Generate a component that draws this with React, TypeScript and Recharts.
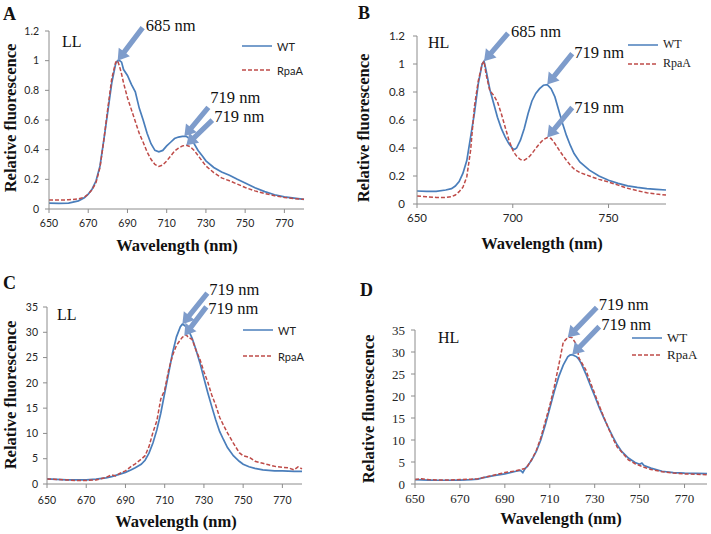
import React from "react";
import { LineChart, Line, XAxis, YAxis, ReferenceDot, Legend } from "recharts";

const W = 711;
const H = 534;

// A: low light, PSII/PSI ratio normalised spectra
const aNm = [650, 655, 660, 665, 668, 670, 672, 674, 676, 678, 680, 682, 684, 685, 686, 687, 688, 690, 692, 694, 696, 698, 700, 702, 704, 706, 708, 710, 712, 714, 716, 718, 720, 722, 724, 726, 728, 730, 734, 738, 742, 746, 750, 755, 760, 765, 770, 775, 780];
const aWT = [0.04, 0.038, 0.04, 0.055, 0.075, 0.1, 0.135, 0.19, 0.29, 0.47, 0.66, 0.85, 0.98, 1.0, 1.0, 0.99, 0.94, 0.9, 0.84, 0.79, 0.68, 0.6, 0.51, 0.44, 0.395, 0.385, 0.395, 0.425, 0.45, 0.475, 0.485, 0.49, 0.49, 0.47, 0.44, 0.395, 0.36, 0.325, 0.28, 0.25, 0.228, 0.2, 0.175, 0.143, 0.117, 0.096, 0.082, 0.073, 0.065];
const aRpaA = [0.06, 0.06, 0.062, 0.068, 0.08, 0.1, 0.13, 0.18, 0.28, 0.47, 0.68, 0.88, 0.99, 1.0, 0.96, 0.91, 0.85, 0.75, 0.67, 0.59, 0.51, 0.45, 0.385, 0.335, 0.3, 0.287, 0.297, 0.324, 0.357, 0.39, 0.41, 0.425, 0.43, 0.42, 0.395, 0.36, 0.325, 0.29, 0.245, 0.21, 0.19, 0.168, 0.145, 0.122, 0.104, 0.09, 0.078, 0.07, 0.065];

// B: high light
const bNm = [650, 655, 660, 665, 668, 670, 672, 674, 676, 678, 680, 682, 684, 685, 686, 688, 690, 692, 694, 696, 698, 700, 701, 702, 704, 706, 708, 710, 712, 714, 716, 718, 720, 722, 724, 726, 728, 730, 732, 735, 740, 745, 750, 755, 760, 765, 770, 775, 780];
const bWT = [0.093, 0.09, 0.09, 0.1, 0.11, 0.128, 0.16, 0.22, 0.31, 0.48, 0.65, 0.86, 1.0, 1.02, 0.96, 0.82, 0.72, 0.62, 0.54, 0.48, 0.43, 0.395, 0.39, 0.4, 0.456, 0.54, 0.646, 0.736, 0.79, 0.824, 0.848, 0.853, 0.824, 0.765, 0.67, 0.575, 0.49, 0.42, 0.36, 0.3, 0.242, 0.2, 0.17, 0.147, 0.13, 0.119, 0.11, 0.105, 0.1];
const bRpaA = [0.057, 0.052, 0.047, 0.047, 0.052, 0.064, 0.088, 0.12, 0.195, 0.385, 0.7, 0.88, 1.0, 1.02, 0.93, 0.81, 0.777, 0.73, 0.646, 0.55, 0.456, 0.385, 0.362, 0.342, 0.318, 0.313, 0.33, 0.36, 0.397, 0.432, 0.46, 0.475, 0.468, 0.432, 0.39, 0.35, 0.313, 0.278, 0.25, 0.225, 0.2, 0.176, 0.157, 0.135, 0.112, 0.095, 0.08, 0.071, 0.064];

// C: low light, 77K spectra (PSI)
const cNm = [650, 655, 660, 665, 670, 675, 680, 683, 685, 688, 690, 693, 695, 698, 700, 702, 704, 706, 708, 710, 712, 714, 716, 718, 719, 720, 721, 722, 724, 726, 728, 730, 732, 734, 736, 738, 740, 742, 745, 748, 750, 753, 756, 760, 763, 766, 770, 773, 776, 778, 780];
const cWT = [1.0, 0.9, 0.8, 0.8, 0.8, 0.95, 1.2, 1.45, 1.7, 2.05, 2.3, 2.8, 3.2, 3.9, 4.7, 6.1, 8.1, 10.7, 14, 18, 21.9, 25.9, 29.1, 31.1, 31.6, 31.4, 31.0, 30.5, 28.8, 26.5, 23.9, 20.9, 18, 15.3, 12.7, 10.4, 8.75, 7.2, 5.6, 4.5, 3.9, 3.4, 3.1, 2.8, 2.7, 2.6, 2.6, 2.55, 2.5, 2.5, 2.5];
const cRpaA = [1.0, 0.9, 0.8, 0.7, 0.7, 0.8, 1.3, 1.8, 1.6, 2.3, 2.6, 3.5, 4.0, 4.9, 5.6, 7.4, 10.2, 12.5, 16.8, 18.6, 22.5, 25.4, 27.4, 28.5, 29.0, 29.3, 29.5, 29.0, 28.6, 26.4, 24.6, 22.2, 20.1, 17.6, 15.6, 13.2, 11.6, 10.1, 8.1, 6.2, 5.6, 5.3, 4.5, 4.1, 3.8, 3.5, 3.3, 3.2, 2.8, 3.4, 3.0];

// D: high light
const dNm = [650, 653, 656, 660, 665, 670, 675, 678, 680, 685, 690, 695, 697, 698, 699, 700, 702, 704, 706, 708, 710, 712, 714, 716, 718, 719, 720, 722, 723, 724, 726, 728, 730, 732, 734, 736, 738, 740, 742, 745, 748, 750, 751, 752, 755, 760, 765, 770, 775, 780];
const dWT = [1.0, 0.95, 0.9, 0.85, 0.85, 0.9, 1.0, 1.1, 1.4, 1.9, 2.3, 2.9, 3.1, 2.6, 3.5, 4.0, 5.5, 7.4, 10.0, 13.4, 17.2, 21.0, 24.4, 27.0, 28.9, 29.3, 29.4, 28.9, 28.3, 27.4, 25.1, 22.5, 20.0, 17.4, 15.1, 12.9, 10.8, 8.9, 7.4, 5.9, 4.9, 4.5, 4.75, 4.2, 3.6, 2.9, 2.6, 2.45, 2.4, 2.35];
const dRpaA = [1.0, 1.2, 1.0, 0.9, 0.9, 1.0, 1.1, 1.2, 1.4, 2.0, 2.6, 3.0, 3.3, 3.4, 3.5, 4.0, 5.6, 7.6, 10.5, 14.2, 17.8, 22.1, 27.0, 32.2, 33.3, 33.4, 33.2, 31.6, 28.6, 27.8, 26.0, 23.2, 20.6, 17.8, 15.3, 12.8, 10.5, 8.4, 7.3, 5.5, 4.6, 4.2, 4.0, 3.8, 3.3, 2.8, 2.5, 2.3, 2.2, 2.1];

const fineX = [650, 670, 690, 710, 730, 750, 770];
const coarseX = [650, 700, 750];
const ratioY = [0, 0.2, 0.4, 0.6, 0.8, 1, 1.2];
const countY = [0, 5, 10, 15, 20, 25, 30, 35];
const seriesOrder = ["WT", "RpaA"];

const BLUE = "#4A7EBB";
const RED = "#BE4B48";
const ARROW = "#7E9CCB";
const AXIS = "#8C8C8C";
const SERIF = "'Liberation Serif', 'Times New Roman', serif";
const SANS = "Lato, 'Liberation Sans', sans-serif";

// arrow tip sits on (x, y); tail is offset by (dx, dy) px; text by (ox, oy) from the tail
type Note = { x: number; y: number; dx: number; dy: number; ox: number; oy: number; text: string };

const panels = [
  {
    id: "A", light: "LL", nm: aNm, wt: aWT, rpaa: aRpaA,
    plot: [49, 31, 304, 209], yMax: 1.2, yTicks: ratioY, xTicks: fineX,
    tickFont: SANS, tickSize: 10.5, xMargin: 7, yMargin: 6,
    legend: { left: 242, top: 34, row: 24, font: SANS, size: 11 },
    letterPos: [3, 20], lightPos: [62, 47], xTitle: [177, 251], yTitle: [16, 118],
    notes: [
      { x: 685, y: 1.0, dx: 25, dy: -33, ox: 3, oy: 3, text: "685 nm" },
      { x: 719, y: 0.49, dx: 24, dy: -29, ox: 2, oy: -4, text: "719 nm" },
      { x: 720, y: 0.43, dx: 26, dy: -25, ox: 2, oy: 2, text: "719 nm" },
    ] as Note[],
  },
  {
    id: "B", light: "HL", nm: bNm, wt: bWT, rpaa: bRpaA,
    plot: [417, 36, 666, 204], yMax: 1.2, yTicks: ratioY, xTicks: coarseX,
    tickFont: SANS, tickSize: 11.5, xMargin: 6, yMargin: 8,
    legend: { left: 628, top: 35, row: 19, font: SERIF, size: 12 },
    letterPos: [358, 19], lightPos: [428, 48], xTitle: [542, 249], yTitle: [369, 128],
    notes: [
      { x: 685, y: 1.02, dx: 24, dy: -28, ox: 3, oy: 4, text: "685 nm" },
      { x: 718, y: 0.853, dx: 25, dy: -31, ox: 2, oy: 4, text: "719 nm" },
      { x: 718, y: 0.475, dx: 25, dy: -30, ox: 2, oy: 5, text: "719 nm" },
    ] as Note[],
  },
  {
    id: "C", light: "LL", nm: cNm, wt: cWT, rpaa: cRpaA,
    plot: [47, 307, 302, 484], yMax: 35, yTicks: countY, xTicks: fineX,
    tickFont: SANS, tickSize: 10.5, xMargin: 9, yMargin: 5,
    legend: { left: 243, top: 317, row: 26, font: SANS, size: 11 },
    letterPos: [3, 289], lightPos: [57, 320], xTitle: [176, 527], yTitle: [16, 395],
    notes: [
      { x: 719, y: 31.6, dx: 25, dy: -31, ox: 2, oy: 2, text: "719 nm" },
      { x: 720, y: 29.3, dx: 22, dy: -29, ox: 2, oy: 7, text: "719 nm" },
    ] as Note[],
  },
  {
    id: "D", light: "HL", nm: dNm, wt: dWT, rpaa: dRpaA,
    plot: [415, 330, 707, 484], yMax: 35, yTicks: countY, xTicks: fineX,
    tickFont: SERIF, tickSize: 13, xMargin: 6, yMargin: 6,
    legend: { left: 632, top: 329, row: 17, font: SERIF, size: 13 },
    letterPos: [360, 296], lightPos: [438, 343], xTitle: [561, 524], yTitle: [374, 409],
    notes: [
      { x: 718, y: 33.3, dx: 29, dy: -30, ox: 2, oy: 3, text: "719 nm" },
      { x: 720, y: 29.4, dx: 27, dy: -28, ox: 2, oy: 3, text: "719 nm" },
    ] as Note[],
  },
];

function ArrowNote(props: any) {
  const { cx, cy, note } = props;
  if (cx == null || cy == null) return null;
  const tx = cx + note.dx;
  const ty = cy + note.dy;
  const len = Math.hypot(note.dx, note.dy);
  const ux = -note.dx / len;
  const uy = -note.dy / len;
  const nx = -uy;
  const ny = ux;
  const sw = 2.6;
  const hw = 7;
  const hl = 11;
  const hx = cx - ux * hl;
  const hy = cy - uy * hl;
  const pts = [
    [tx + nx * sw, ty + ny * sw],
    [hx + nx * sw, hy + ny * sw],
    [hx + nx * hw, hy + ny * hw],
    [cx, cy],
    [hx - nx * hw, hy - ny * hw],
    [hx - nx * sw, hy - ny * sw],
    [tx - nx * sw, ty - ny * sw],
  ]
    .map((p) => p.join(","))
    .join(" ");
  return (
    <g>
      <polygon points={pts} fill={ARROW} />
      <text x={tx + note.ox} y={ty + note.oy} fontFamily={SERIF} fontSize={16.5} fill="#111">
        {note.text}
      </text>
    </g>
  );
}

function legendContent(lg: { row: number; font: string; size: number }) {
  return (props: any) => {
    const items = [...(props.payload || [])].sort(
      (a: any, b: any) => seriesOrder.indexOf(a.value) - seriesOrder.indexOf(b.value)
    );
    return (
      <div style={{ fontFamily: lg.font, fontSize: lg.size, color: "#222" }}>
        {items.map((item: any) => (
          <div key={item.value} style={{ display: "flex", alignItems: "center", height: lg.row }}>
            <svg width={30} height={4}>
              <line
                x1={0}
                y1={2}
                x2={30}
                y2={2}
                stroke={item.color}
                strokeWidth={1.5}
                strokeDasharray={item.payload?.strokeDasharray}
              />
            </svg>
            <span style={{ marginLeft: 5 }}>{item.value}</span>
          </div>
        ))}
      </div>
    );
  };
}

function Panel({ p }: { p: (typeof panels)[number] }) {
  const data = p.nm.map((nm, i) => ({ nm, wt: p.wt[i], rpaa: p.rpaa[i] }));
  const [l, t, r, b] = p.plot;
  const tick = { fill: "#262626", fontSize: p.tickSize, fontFamily: p.tickFont };
  return (
    <div style={{ position: "absolute", left: 0, top: 0 }}>
      <LineChart
        width={W}
        height={H}
        data={data}
        margin={{ left: l - 40, top: t, right: W - r, bottom: H - b - 30 }}
      >
        <XAxis
          type="number"
          dataKey="nm"
          domain={[650, 780]}
          ticks={p.xTicks}
          interval={0}
          height={30}
          tickSize={4}
          tickMargin={p.xMargin}
          axisLine={{ stroke: AXIS }}
          tickLine={{ stroke: AXIS }}
          tick={tick}
        />
        <YAxis
          type="number"
          domain={[0, p.yMax]}
          ticks={p.yTicks}
          interval={0}
          width={40}
          tickSize={4}
          tickMargin={p.yMargin}
          axisLine={{ stroke: AXIS }}
          tickLine={{ stroke: AXIS }}
          tick={tick}
        />
        <Line
          name="WT"
          dataKey="wt"
          stroke={BLUE}
          strokeWidth={1.7}
          dot={false}
          isAnimationActive={false}
        />
        <Line
          name="RpaA"
          dataKey="rpaa"
          stroke={RED}
          strokeWidth={1.5}
          strokeDasharray="4 2"
          dot={false}
          isAnimationActive={false}
        />
        {p.notes.map((n, i) => (
          <ReferenceDot
            key={i}
            x={n.x}
            y={n.y}
            r={0}
            ifOverflow="visible"
            shape={(props: any) => <ArrowNote {...props} note={n} />}
          />
        ))}
        <Legend
          layout="vertical"
          align="center"
          verticalAlign="middle"
          content={legendContent(p.legend)}
          wrapperStyle={{ left: p.legend.left, top: p.legend.top, width: "auto" }}
        />
      </LineChart>
    </div>
  );
}

export default function App() {
  return (
    <div
      style={{
        position: "absolute",
        left: 0,
        top: 0,
        width: W,
        height: H,
        background: "#fff",
        overflow: "hidden",
      }}
    >
      {panels.map((p) => (
        <Panel key={p.id} p={p} />
      ))}
      <svg
        width={W}
        height={H}
        style={{ position: "absolute", left: 0, top: 0, pointerEvents: "none" }}
      >
        {panels.map((p) => (
          <g key={p.id} fontFamily={SERIF} fill="#111">
            <text x={p.letterPos[0]} y={p.letterPos[1]} fontSize={18} fontWeight="bold">
              {p.id}
            </text>
            <text x={p.lightPos[0]} y={p.lightPos[1]} fontSize={16}>
              {p.light}
            </text>
            <text
              x={p.xTitle[0]}
              y={p.xTitle[1]}
              fontSize={16.5}
              fontWeight="bold"
              textAnchor="middle"
            >
              Wavelength (nm)
            </text>
            <text
              x={p.yTitle[0]}
              y={p.yTitle[1]}
              fontSize={16.5}
              fontWeight="bold"
              textAnchor="middle"
              transform={`rotate(-90 ${p.yTitle[0]} ${p.yTitle[1]})`}
            >
              Relative fluorescence
            </text>
          </g>
        ))}
      </svg>
    </div>
  );
}
